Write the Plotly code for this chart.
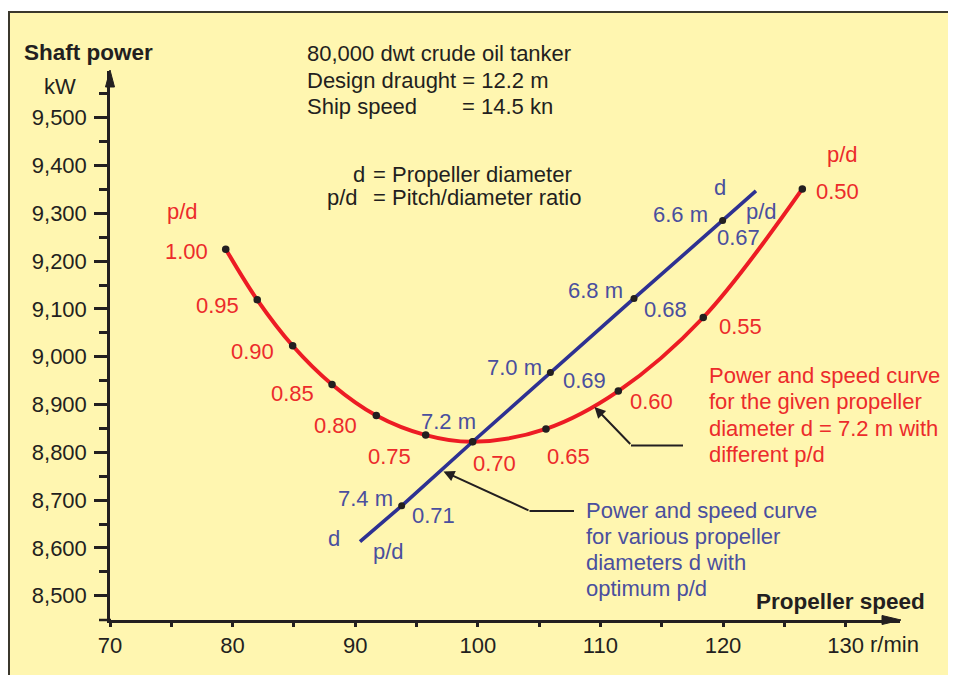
import plotly.graph_objects as go

# ---------------- data ----------------
# red curve: given propeller diameter d = 7.2 m, varying pitch/diameter ratio
red_pd = ["1.00", "0.95", "0.90", "0.85", "0.80", "0.75", "0.70", "0.65", "0.60", "0.55", "0.50"]
red_speed = [79.44, 82.01, 84.90, 88.11, 91.72, 95.75, 99.58, 105.56, 111.46, 118.39, 126.47]
red_power = [9225, 9119, 9023, 8942, 8877, 8836, 8822, 8849, 8928, 9082, 9351]

# blue line: various diameters with optimum p/d
blue_d = ["7.4 m", "7.2 m", "7.0 m", "6.8 m", "6.6 m"]
blue_pd = ["0.71", "0.70", "0.69", "0.68", "0.67"]
blue_speed = [93.79, 99.58, 105.92, 112.74, 119.97]
blue_power = [8688, 8822, 8967, 9122, 9285]
blue_line_speed = [90.39, 93.79, 99.58, 105.92, 112.74, 119.97, 122.69]
blue_line_power = [8613, 8688, 8822, 8967, 9122, 9285, 9347]

x_ticks = [70, 80, 90, 100, 110, 120, 130]
y_ticks = [8500, 8600, 8700, 8800, 8900, 9000, 9100, 9200, 9300, 9400, 9500]

# ---------------- layout geometry (page pixels) ----------------
OFF = 8                      # default body margin of the html page
W, H = 956 - OFF, 675 - OFF  # figure size
L, R, T, B = 110, 900, 71, 620   # plot area in page pixels
X_RANGE = [70, 70 + (R - L) / 12.26]
Y_RANGE = [8500 - (B - 595.7) / 0.478, 8500 + (595.7 - T) / 0.478]


def px(x):
    return (x - L) / (R - L)


def py(y):
    return (B - y) / (B - T)


FONT = "Liberation Sans, Arial, Helvetica, sans-serif"
BLACK = "#231f20"
RED_LINE = "#ed1c24"
RED_TXT = "#ec2b2b"
BLUE_LINE = "#2e3192"
BLUE_TXT = "#4a4f9e"
BG = "#fff6b0"
FS = 22

fig = go.Figure()

fig.add_trace(go.Scatter(x=red_speed, y=red_power, mode="lines",
                         line=dict(color=RED_LINE, width=4, shape="spline"),
                         hoverinfo="skip", showlegend=False))
fig.add_trace(go.Scatter(x=blue_line_speed, y=blue_line_power, mode="lines",
                         line=dict(color=BLUE_LINE, width=3.6),
                         hoverinfo="skip", showlegend=False))
fig.add_trace(go.Scatter(x=red_speed, y=red_power, mode="markers",
                         marker=dict(color=BLACK, size=7.5),
                         hoverinfo="skip", showlegend=False))
fig.add_trace(go.Scatter(x=blue_speed, y=blue_power, mode="markers",
                         marker=dict(color=BLACK, size=7),
                         hoverinfo="skip", showlegend=False))

ann = []


def txt(s, x, y, color=BLACK, anchor="center", size=FS, bold=False):
    if bold:
        s = "<b>" + s + "</b>"
    ann.append(dict(text=s, x=px(x), y=py(y), xref="paper", yref="paper",
                    xanchor=anchor, yanchor="middle", showarrow=False,
                    borderpad=0, font=dict(family=FONT, size=size, color=color)))


# axis titles
txt("Shaft power", 88, 53, bold=True, size=22.5)
txt("kW", 60, 87)
txt("Propeller speed", 926, 601, anchor="right", bold=True, size=22.5)
txt("r/min", 869, 644, anchor="left")

# info block
txt("80,000 dwt crude oil tanker", 306, 54, anchor="left")
txt("Design draught = 12.2 m", 306, 80, anchor="left")
txt("Ship speed", 306, 106, anchor="left")
txt("= 14.5 kn", 461, 106, anchor="left")
txt("d", 366, 175, anchor="right")
txt("= Propeller diameter", 372, 175, anchor="left")
txt("p/d", 359, 197, anchor="right")
txt("= Pitch/diameter ratio", 372, 197, anchor="left")

# red labels
red_label_pos = [(186, 251), (217, 305), (252, 351), (292, 393), (335, 425), (389, 456),
                 (494, 463), (568, 456), (651, 401), (740, 326), (837, 192)]
for s, (x, y) in zip(red_pd, red_label_pos):
    txt(s, x, y, RED_TXT)
txt("p/d", 182, 211, RED_TXT)
txt("p/d", 842, 154, RED_TXT)

# blue labels
blue_d_pos = [(365, 498), (448, 421), (515, 367), (595, 290), (680, 215)]
blue_pd_pos = [(433, 515), (None, None), (584, 380), (665, 309), (738, 238)]
for s, (x, y) in zip(blue_d, blue_d_pos):
    txt(s, x, y, BLUE_TXT)
for s, (x, y) in zip(blue_pd, blue_pd_pos):
    if x is not None:
        txt(s, x, y, BLUE_TXT)
txt("d", 720, 187, BLUE_TXT)
txt("p/d", 761, 211, BLUE_TXT)
txt("d", 334, 538, BLUE_TXT)
txt("p/d", 388, 551, BLUE_TXT)

# explanatory text blocks
for i, s in enumerate(["Power and speed curve", "for the given propeller",
                       "diameter d = 7.2 m with", "different p/d"]):
    txt(s, 708, 375 + i * 26.5, RED_TXT, anchor="left")
for i, s in enumerate(["Power and speed curve", "for various propeller",
                       "diameters d with", "optimum p/d"]):
    txt(s, 585, 510 + i * 26, BLUE_TXT, anchor="left")


# callout arrows (pixel-based)
def arrow(tip, elbow):
    ann.append(dict(text="", x=px(tip[0]), y=py(tip[1]), xref="paper", yref="paper",
                    ax=elbow[0] - tip[0], ay=elbow[1] - tip[1], showarrow=True,
                    arrowhead=2, arrowsize=1.1, arrowwidth=2, arrowcolor=BLACK))


arrow((443.5, 471.5), (530, 511))
arrow((594.5, 407), (631.7, 445.5))

shapes = []
# frame
shapes.append(dict(type="rect", xref="paper", yref="paper", layer="below",
                   x0=px(9), x1=px(951), y0=py(690), y1=py(12),
                   fillcolor=BG, line=dict(color="#3b382c", width=2)))
# callout horizontal segments
shapes.append(dict(type="line", xref="paper", yref="paper",
                   x0=px(529.5), x1=px(574), y0=py(511), y1=py(511),
                   line=dict(color=BLACK, width=2)))
shapes.append(dict(type="line", xref="paper", yref="paper",
                   x0=px(631), x1=px(683), y0=py(445.5), y1=py(445.5),
                   line=dict(color=BLACK, width=2)))
# x-axis extension left of the y-axis
shapes.append(dict(type="line", xref="paper", yref="paper",
                   x0=px(99), x1=px(111), y0=py(620), y1=py(620),
                   line=dict(color=BLACK, width=2.5)))


def tri(pts):
    d = "M " + " L ".join(f"{px(a)},{py(b)}" for a, b in pts) + " Z"
    return dict(type="path", xref="paper", yref="paper", path=d,
                fillcolor=BLACK, line=dict(color=BLACK, width=1))


shapes.append(tri([(110, 70), (105.5, 87), (114.5, 87)]))
shapes.append(tri([(901, 620), (882, 615.5), (882, 624.5)]))

fig.update_layout(
    width=W, height=H,
    margin=dict(l=L - OFF, r=W + OFF - R, t=T - OFF, b=H + OFF - B, pad=0),
    paper_bgcolor="white", plot_bgcolor="rgba(0,0,0,0)",
    showlegend=False,
    annotations=ann, shapes=shapes,
    xaxis=dict(range=X_RANGE, showgrid=False, zeroline=False,
               showline=True, linecolor=BLACK, linewidth=2.5,
               tickmode="array", tickvals=x_ticks, ticktext=[str(v) for v in x_ticks],
               ticks="outside", ticklen=4, tickwidth=2.5, tickcolor=BLACK,
               minor=dict(tickmode="array", tickvals=[75, 85, 95, 105, 115, 125],
                          ticks="outside", ticklen=4, tickwidth=2.5, tickcolor=BLACK),
               tickfont=dict(family=FONT, size=FS, color=BLACK), fixedrange=True),
    yaxis=dict(range=Y_RANGE, showgrid=False, zeroline=False,
               showline=True, linecolor=BLACK, linewidth=2.5,
               tickmode="array", tickvals=y_ticks, tickformat=",",
               ticks="outside", ticklen=13, tickwidth=2.5, tickcolor=BLACK,
               ticklabelstandoff=3,
               minor=dict(tickmode="array", tickvals=[v + 50 for v in y_ticks],
                          ticks="outside", ticklen=8, tickwidth=2.5, tickcolor=BLACK),
               tickfont=dict(family=FONT, size=FS, color=BLACK), fixedrange=True),
)

fig.write_html("out.html")
